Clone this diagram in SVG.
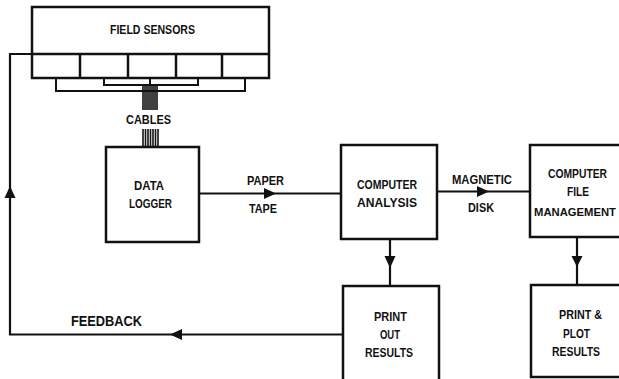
<svg xmlns="http://www.w3.org/2000/svg" width="619" height="379" viewBox="0 0 619 379">
<style>
.box{fill:none;stroke:#111;stroke-width:2.5}
.ln{fill:none;stroke:#111;stroke-width:2.2}
.wire{fill:none;stroke:#111;stroke-width:2}
.cb{stroke:#111;stroke-width:1.6}
.t{font-family:"Liberation Sans",Arial,sans-serif;font-weight:bold;font-size:12.5px;fill:#111;text-anchor:middle}
.ah{fill:#111;stroke:none}
</style>
<rect width="619" height="379" fill="#fff"/>
<g id="field-sensors">
<rect class="box" x="32" y="7" width="237" height="71"/>
<line class="box" x1="32" y1="54" x2="269" y2="54"/>
<line class="box" x1="80" y1="54" x2="80" y2="78"/>
<line class="box" x1="128" y1="54" x2="128" y2="78"/>
<line class="box" x1="176" y1="54" x2="176" y2="78"/>
<line class="box" x1="222" y1="54" x2="222" y2="78"/>
<text class="t" x="152.5" y="34" textLength="85" lengthAdjust="spacingAndGlyphs">FIELD SENSORS</text>
</g>
<g id="cables">
<polyline class="wire" points="56,78 56,91 245,91 245,78"/>
<polyline class="wire" points="104,78 104,85 198,85 198,78"/>
<line class="wire" x1="150" y1="78" x2="150" y2="86"/>
<g class="cb">
<line x1="143" y1="86" x2="143" y2="110"/><line x1="145" y1="86" x2="145" y2="110"/><line x1="147" y1="86" x2="147" y2="110"/><line x1="149" y1="86" x2="149" y2="110"/><line x1="151" y1="86" x2="151" y2="110"/><line x1="153" y1="86" x2="153" y2="110"/><line x1="155" y1="86" x2="155" y2="110"/><line x1="157" y1="86" x2="157" y2="110"/>
<line x1="143" y1="129" x2="143" y2="148"/><line x1="145.5" y1="129" x2="145.5" y2="148"/><line x1="148" y1="129" x2="148" y2="148"/><line x1="150.5" y1="129" x2="150.5" y2="148"/><line x1="153" y1="129" x2="153" y2="148"/><line x1="155.5" y1="129" x2="155.5" y2="148"/><line x1="158" y1="129" x2="158" y2="148"/>
</g>
<text class="t" x="148.5" y="124" textLength="45" lengthAdjust="spacingAndGlyphs" style="font-size:13.5px">CABLES</text>
</g>
<g id="data-logger">
<rect class="box" x="106" y="147" width="93" height="95"/>
<text class="t" x="149" y="190" textLength="30" lengthAdjust="spacingAndGlyphs">DATA</text>
<text class="t" x="150.5" y="208" textLength="43" lengthAdjust="spacingAndGlyphs">LOGGER</text>
</g>
<g id="computer-analysis">
<rect class="box" x="341" y="145" width="96" height="94"/>
<text class="t" x="387" y="189" textLength="60" lengthAdjust="spacingAndGlyphs">COMPUTER</text>
<text class="t" x="387" y="207" textLength="60" lengthAdjust="spacingAndGlyphs">ANALYSIS</text>
</g>
<g id="computer-file-management">
<rect class="box" x="530" y="145" width="100" height="92"/>
<text class="t" x="577.5" y="178" textLength="59" lengthAdjust="spacingAndGlyphs">COMPUTER</text>
<text class="t" x="578" y="196" textLength="22" lengthAdjust="spacingAndGlyphs">FILE</text>
<text class="t" x="575" y="216" textLength="82" lengthAdjust="spacingAndGlyphs" style="font-size:11.5px">MANAGEMENT</text>
</g>
<g id="print-out-results">
<rect class="box" x="343" y="286" width="96" height="100"/>
<text class="t" x="390.5" y="321" textLength="33" lengthAdjust="spacingAndGlyphs">PRINT</text>
<text class="t" x="390" y="339" textLength="20" lengthAdjust="spacingAndGlyphs">OUT</text>
<text class="t" x="389" y="357" textLength="48" lengthAdjust="spacingAndGlyphs">RESULTS</text>
</g>
<g id="print-plot-results">
<rect class="box" x="531" y="285" width="100" height="92"/>
<text class="t" x="580.5" y="319" textLength="43" lengthAdjust="spacingAndGlyphs">PRINT &amp;</text>
<text class="t" x="576.5" y="338" textLength="27" lengthAdjust="spacingAndGlyphs">PLOT</text>
<text class="t" x="576" y="356" textLength="48" lengthAdjust="spacingAndGlyphs">RESULTS</text>
</g>
<g id="connectors">
<line class="ln" x1="199" y1="193.5" x2="341" y2="193.5"/>
<polygon class="ah" points="264,188 276,193.5 264,199"/>
<text class="t" x="265.5" y="185" textLength="37" lengthAdjust="spacingAndGlyphs">PAPER</text>
<text class="t" x="263" y="213" textLength="28" lengthAdjust="spacingAndGlyphs">TAPE</text>
<line class="ln" x1="437" y1="191.5" x2="530" y2="191.5"/>
<polygon class="ah" points="477,186 489,191.5 477,197"/>
<text class="t" x="482" y="184" textLength="60" lengthAdjust="spacingAndGlyphs">MAGNETIC</text>
<text class="t" x="481" y="212" textLength="26" lengthAdjust="spacingAndGlyphs">DISK</text>
<line class="ln" x1="390" y1="239" x2="390" y2="286"/>
<polygon class="ah" points="384.5,256 395.5,256 390,268"/>
<line class="ln" x1="577" y1="237" x2="577" y2="285"/>
<polygon class="ah" points="571.5,256 582.5,256 577,267"/>
<polyline class="ln" points="343,334.5 10,334.5 10,54 32,54"/>
<polygon class="ah" points="170,334.5 182,329 182,340"/>
<polygon class="ah" points="10,186 4.5,198 15.5,198"/>
<text class="t" x="106.5" y="326" textLength="71" lengthAdjust="spacingAndGlyphs" style="font-size:14px">FEEDBACK</text>
</g>
</svg>
